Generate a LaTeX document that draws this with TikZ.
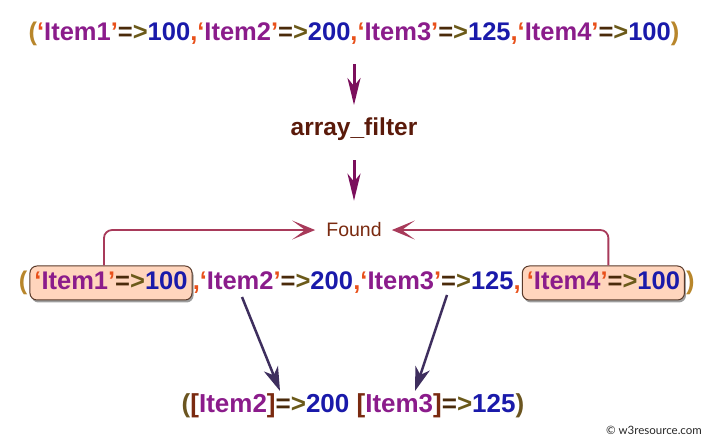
\documentclass[tikz,border=0pt]{standalone}
\usepackage{fontspec}
\setmainfont{Liberation Sans}
\newfontfamily\wmfont{Lato}
\usetikzlibrary{arrows.meta,shadows}
\definecolor{parc}{HTML}{B8862B}
\definecolor{qc}{HTML}{E8501A}
\definecolor{itc}{HTML}{8B1C8B}
\definecolor{eqc}{HTML}{4A2A0A}
\definecolor{gtc}{HTML}{6B5A1A}
\definecolor{numc}{HTML}{1A1AAA}
\definecolor{afc}{HTML}{5A1A0A}
\definecolor{arrc}{HTML}{7B0F5C}
\definecolor{foundc}{HTML}{7A2A10}
\definecolor{brc}{HTML}{A83A5A}
\definecolor{lowc}{HTML}{3E2E5E}
\definecolor{boxfill}{HTML}{FFD5BD}
\definecolor{boxdraw}{HTML}{5A3A2A}
\definecolor{sqc}{HTML}{7A2A10}
\definecolor{bparc}{HTML}{6B5520}
\newcommand\cpar[1]{\textcolor{parc}{#1}}
\newcommand\cq[1]{\textcolor{qc}{#1}}
\newcommand\citem[1]{\textcolor{itc}{#1}}
\newcommand\ceq[1]{\textcolor{eqc}{#1}}
\newcommand\cgt[1]{\textcolor{gtc}{#1}}
\newcommand\cnum[1]{\textcolor{numc}{#1}}
\newcommand\kv[2]{\cq{‘}\citem{Item#1}\cq{’}\ceq{=}\cgt{>}\cnum{#2}}
\newcommand\bkv[2]{\textcolor{sqc}{[}\citem{Item#1}\textcolor{sqc}{]}\ceq{=}\cgt{>}\cnum{#2}}
\tikzset{
  bigtxt/.style={inner sep=0pt, font=\fontsize{25.5}{30}\selectfont\bfseries},
  itembox/.style={bigtxt, draw=boxdraw, line width=1pt, fill=boxfill, rounded corners=7pt,
    inner xsep=4.5pt, inner ysep=4.5pt, text height=19pt, text depth=6pt,
    drop shadow={shadow xshift=1.5pt, shadow yshift=-2.5pt, opacity=0.55, fill=black!70}},
  toparr/.style={draw=arrc, line width=3pt, -{Stealth[length=27pt,width=13pt,inset=8pt]}},
  brline/.style={draw=brc, line width=1.8pt, rounded corners=8pt, -{Stealth[length=23pt,width=19pt,inset=13pt]}},
  lowarr/.style={draw=lowc, line width=2.5pt, -{Stealth[length=24pt,width=15pt,inset=7pt]}}
}
\begin{document}
\begin{tikzpicture}[x=1pt,y=-1pt]
\useasboundingbox (0,0) rectangle (709,443);
% top line
\node[bigtxt, anchor=base] (top) at (354,41)
  {\cpar{(}\kv{1}{100}\cq{,}\kv{2}{200}\cq{,}\kv{3}{125}\cq{,}\kv{4}{100}\cpar{)}};
\node[inner sep=0pt, anchor=base, font=\fontsize{24.5}{28}\selectfont\bfseries, text=afc] (af) at (354,136) {array\_filter};
\node[inner sep=0pt, anchor=base, font=\fontsize{19.5}{24}\selectfont, text=foundc] (found) at (354,237) {Found};
% second line
\node[itembox] (b1) at (111,283) {\kv{1}{100}};
\node[bigtxt, anchor=base west] (r1) at (b1.base east) {\cq{,}\kv{2}{200}};
\node[bigtxt, anchor=base west] (r2) at (r1.base east) {\cq{,}\kv{3}{125}\cq{,}};
\node[itembox, anchor=base west] (b2) at ([xshift=1pt]r2.base east) {\kv{4}{100}};
\node[bigtxt, anchor=base east] (lp) at ([xshift=-2pt]b1.base west) {\cpar{(}};
\node[bigtxt, anchor=base west] (rp) at ([xshift=1pt]b2.base east) {\cpar{)}};
% bottom line
\node[inner sep=0pt, anchor=base, font=\fontsize{26}{30}\selectfont\bfseries] (bot) at (353,412)
  {\textcolor{bparc}{(}\bkv{2}{200} \bkv{3}{125}\textcolor{bparc}{)}};
% watermark
\node[inner sep=0pt, anchor=base, font=\wmfont\fontsize{11.5}{13}\selectfont, text=black!85] (wm) at (654,434) {© w3resource.com};
% arrows
\draw[toparr, shorten <=18pt, shorten >=13pt] (top.south) -- (af.north);
\draw[toparr, shorten <=19pt, shorten >=22pt] (af.south) -- (found.north);
\draw[brline, shorten >=11pt] ([xshift=-7pt]b1.north) |- (found.west);
\draw[brline, shorten >=10pt] ([xshift=5pt]b2.north) |- (found.east);
\coordinate (s2) at (242,297);
\coordinate (e2) at (280,391);
\coordinate (s3) at (447,295);
\coordinate (e3) at (415,391);
\draw[lowarr] (s2) -- (e2);
\draw[lowarr] (s3) -- (e3);
\end{tikzpicture}
\end{document}
